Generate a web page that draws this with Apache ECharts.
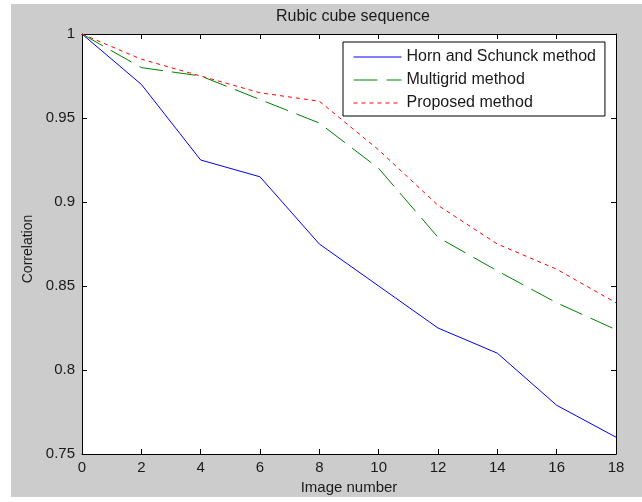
<!DOCTYPE html>
<html>
<head>
<meta charset="utf-8">
<title>Rubic cube sequence</title>
<script src="https://cdn.jsdelivr.net/npm/echarts@6/dist/echarts.min.js"></script>
<style>
  html, body { margin: 0; padding: 0; background: #fff; }
  #chart { width: 642px; height: 502px; }
</style>
</head>
<body>
<div id="chart"></div>
<script>
// data
const imageNumbers = [0, 2, 4, 6, 8, 10, 12, 14, 16, 18]
const hornSchunck = [1, 0.97, 0.925, 0.915, 0.875, 0.85, 0.825, 0.81, 0.779, 0.76]
const multigrid = [1, 0.98, 0.975, 0.961, 0.947, 0.92, 0.879, 0.859, 0.84, 0.824]
const proposed = [1, 0.985, 0.975, 0.965, 0.96, 0.931, 0.898, 0.875, 0.86, 0.84]
const seriesNames = ['Horn and Schunck method', 'Multigrid method', 'Proposed method']

const font = 'Liberation Sans, Arial, sans-serif'
const textColor = '#1a1a1a'

function pairs(values) {
  return imageNumbers.map((x, i) => [x, values[i]])
}

// shared axis look, MATLAB style ticks inside
function axisBase(extra) {
  return Object.assign({
    type: 'value',
    axisLine: { show: true, onZero: false, lineStyle: { color: '#000', width: 1 } },
    axisTick: { show: true, inside: true, length: 5, lineStyle: { color: '#000' } },
    splitLine: { show: false },
    axisLabel: { color: textColor, fontSize: 15, fontFamily: font }
  }, extra)
}

const chart = echarts.init(document.getElementById('chart'), null, { renderer: 'canvas' })

const option = {
  animation: false,
  backgroundColor: '#fff',
  graphic: [{
    type: 'rect',
    z: -100,
    silent: true,
    shape: { x: 11, y: 4, width: 631, height: 493 },
    style: { fill: '#cccccc' }
  }],
  title: {
    text: 'Rubic cube sequence',
    left: 348,
    top: 4,
    textAlign: 'center',
    textStyle: { color: textColor, fontSize: 16, fontWeight: 'normal', fontFamily: font }
  },
  grid: {
    left: 82,
    top: 34,
    width: 534,
    height: 420,
    show: true,
    backgroundColor: '#fff',
    borderWidth: 0
  },
  legend: {
    data: seriesNames,
    orient: 'vertical',
    left: 343,
    top: 42,
    itemWidth: 48,
    itemHeight: 16,
    itemGap: 7,
    padding: [7, 9, 5, 10],
    backgroundColor: '#fff',
    borderColor: '#000',
    borderWidth: 1,
    borderRadius: 0,
    // hide the marker dot, keep only the line sample
    itemStyle: { opacity: 0 },
    lineStyle: { width: 1 },
    textStyle: { color: textColor, fontSize: 16, fontFamily: font }
  },
  xAxis: [
    axisBase({
      position: 'bottom',
      min: 0,
      max: 18,
      interval: 2,
      name: 'Image number',
      nameLocation: 'middle',
      nameGap: 26,
      nameTextStyle: { color: textColor, fontSize: 15, fontFamily: font },
      axisLabel: { color: textColor, fontSize: 15, fontFamily: font, margin: 6 }
    }),
    axisBase({
      position: 'top',
      min: 0,
      max: 18,
      interval: 2,
      axisLabel: { show: false }
    })
  ],
  yAxis: [
    axisBase({
      position: 'left',
      min: 0.75,
      max: 1,
      interval: 0.05,
      name: 'Correlation',
      nameLocation: 'middle',
      nameGap: 47,
      nameTextStyle: { color: textColor, fontSize: 14, fontFamily: font, padding: [0, 0, 0, -10] },
      axisLabel: { color: textColor, fontSize: 15, fontFamily: font, margin: 7 }
    }),
    axisBase({
      position: 'right',
      min: 0.75,
      max: 1,
      interval: 0.05,
      axisLabel: { show: false }
    })
  ],
  series: [
    {
      name: seriesNames[0],
      type: 'line',
      data: pairs(hornSchunck),
      symbol: 'none',
      lineStyle: { color: '#0000ff', width: 1, type: 'solid' },
      itemStyle: { color: '#0000ff' }
    },
    {
      name: seriesNames[1],
      type: 'line',
      data: pairs(multigrid),
      symbol: 'none',
      lineStyle: { color: '#008000', width: 1, type: [24, 9] },
      itemStyle: { color: '#008000' }
    },
    {
      name: seriesNames[2],
      type: 'line',
      data: pairs(proposed),
      symbol: 'none',
      lineStyle: { color: '#ff0000', width: 1, type: [4, 4] },
      itemStyle: { color: '#ff0000' }
    }
  ]
}

chart.setOption(option)
</script>
</body>
</html>
